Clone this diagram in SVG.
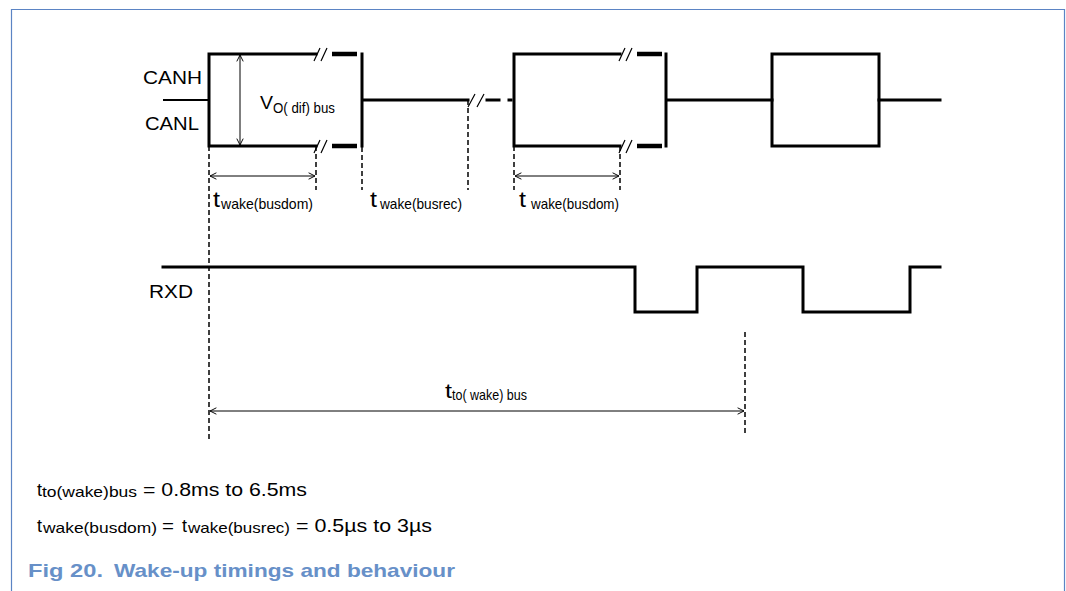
<svg xmlns="http://www.w3.org/2000/svg" width="1066" height="591" viewBox="0 0 1066 591">
<style>
.sig{fill:none;stroke:#000;stroke-width:3;stroke-linecap:square}
.thk{fill:none;stroke:#000;stroke-width:4.5}
.thin{fill:none;stroke:#000;stroke-width:1.8}
.sl{fill:none;stroke:#000;stroke-width:1.2}
.dash{fill:none;stroke:#000;stroke-width:1.5;stroke-dasharray:5,3}
.dim{fill:none;stroke:#000;stroke-width:1;marker-start:url(#ah);marker-end:url(#ah)}
text{font-family:"Liberation Sans",Arial,sans-serif;fill:#000}
.cap{font-family:"Liberation Sans",Arial,sans-serif;font-weight:bold;fill:#6790c8}
</style>
<defs>
<marker id="ah" viewBox="0 0 10 10" refX="9" refY="5" markerWidth="8" markerHeight="8" markerUnits="userSpaceOnUse" orient="auto-start-reverse">
<path d="M1,1 L9,5 L1,9" fill="none" stroke="#000" stroke-width="1.2"/>
</marker>
</defs>
<rect width="1066" height="591" fill="#fff"/>
<path d="M11.5,600 V9.5 H1064.5 V600" fill="none" stroke="#5b84c4" stroke-width="1.2"/>

<g id="canbus">
<path class="thin" d="M163,100 H209"/>
<path class="sig" d="M316,54 H209 V146 H316"/>
<path class="sl" d="M314,61 L320,48 M321,61 L327,48 M314,153 L320,140 M321,153 L327,140"/>
<path class="thk" d="M332,54 H357 M332,146 H357"/>
<path class="sig" d="M362,54 V146 M362,100 H468"/>
<path class="sl" d="M468,107 L475,94 M477,107 L484,94"/>
<path class="sig" d="M487,100 H499 M509,100 H511"/>
<path class="sig" d="M620,54 H514 V146 H620"/>
<path class="sl" d="M619,61 L625,48 M626,61 L632,48 M619,153 L625,140 M626,153 L632,140"/>
<path class="thk" d="M637,54 H662 M637,146 H662"/>
<path class="sig" d="M666,54 V146 M666,100 H772"/>
<rect class="sig" x="772" y="54" width="107" height="92"/>
<path class="sig" d="M879,100 H940"/>
</g>

<g id="rxd">
<path class="sig" d="M163,267 H635 V312 H697 V267 H803 V312 H910 V267 H940"/>
</g>

<g id="connectors">
<path class="dash" d="M209,146 V440 M316,146 V190 M362,147 V190 M468,100 V190 M514,146 V190 M620,146 V190 M745,332 V436"/>
<path class="dim" d="M240,55 V145"/>
<path class="dim" d="M210,176 H315"/>
<path class="dim" d="M515,176 H619"/>
<path class="dim" d="M210,411 H744"/>
</g>

<g id="labels">
<text x="143" y="84" font-size="18" textLength="59" lengthAdjust="spacingAndGlyphs">CANH</text>
<text x="145" y="130" font-size="18" textLength="54" lengthAdjust="spacingAndGlyphs">CANL</text>
<text x="149" y="298" font-size="18" textLength="44" lengthAdjust="spacingAndGlyphs">RXD</text>
<text x="260" y="109" font-size="19" textLength="13" lengthAdjust="spacingAndGlyphs">V</text>
<text x="273" y="113" font-size="14.5" textLength="62" lengthAdjust="spacingAndGlyphs">O( dif) bus</text>
<text x="213" y="207" font-size="22" textLength="7" lengthAdjust="spacingAndGlyphs">t</text>
<text x="221" y="209" font-size="15" textLength="92" lengthAdjust="spacingAndGlyphs">wake(busdom)</text>
<text x="370" y="207" font-size="22" textLength="7" lengthAdjust="spacingAndGlyphs">t</text>
<text x="380" y="209" font-size="15" textLength="82" lengthAdjust="spacingAndGlyphs">wake(busrec)</text>
<text x="519" y="207" font-size="22" textLength="7" lengthAdjust="spacingAndGlyphs">t</text>
<text x="531" y="209" font-size="15" textLength="88" lengthAdjust="spacingAndGlyphs">wake(busdom)</text>
<text x="445" y="398" font-size="20" textLength="7" lengthAdjust="spacingAndGlyphs">t</text>
<text x="452" y="400" font-size="14.5" textLength="75" lengthAdjust="spacingAndGlyphs">to( wake) bus</text>
</g>

<g id="notes">
<text x="37" y="496" font-size="18" textLength="5" lengthAdjust="spacingAndGlyphs">t</text>
<text x="42" y="497" font-size="15" textLength="95" lengthAdjust="spacingAndGlyphs">to(wake)bus</text>
<text x="143" y="496" font-size="19" textLength="164" lengthAdjust="spacingAndGlyphs">= 0.8ms to 6.5ms</text>
<text x="37" y="532" font-size="18" textLength="5" lengthAdjust="spacingAndGlyphs">t</text>
<text x="43" y="533" font-size="15" textLength="114" lengthAdjust="spacingAndGlyphs">wake(busdom)</text>
<text x="162" y="532" font-size="19" textLength="12" lengthAdjust="spacingAndGlyphs">=</text>
<text x="182" y="532" font-size="18" textLength="5" lengthAdjust="spacingAndGlyphs">t</text>
<text x="188" y="533" font-size="15" textLength="102" lengthAdjust="spacingAndGlyphs">wake(busrec)</text>
<text x="296" y="532" font-size="19" textLength="136" lengthAdjust="spacingAndGlyphs">= 0.5µs to 3µs</text>
<text class="cap" x="28" y="577" font-size="19" textLength="75" lengthAdjust="spacingAndGlyphs">Fig 20.</text>
<text class="cap" x="114" y="577" font-size="19" textLength="341" lengthAdjust="spacingAndGlyphs">Wake-up timings and behaviour</text>
</g>
</svg>
